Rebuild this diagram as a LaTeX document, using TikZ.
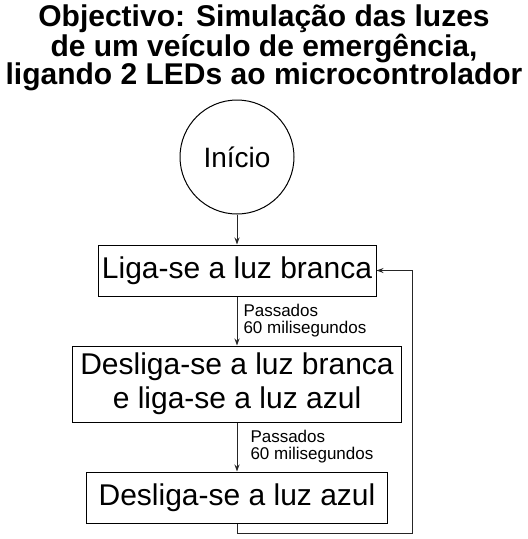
\documentclass[tikz,border=0pt]{standalone}
\usepackage{fontspec}
\setmainfont{Liberation Sans}
\usetikzlibrary{arrows.meta,positioning}
\usepackage{xcolor}
\definecolor{ink}{HTML}{000000}
\tikzset{
  >={Stealth[length=7pt,width=5pt]},
  every node/.style={text=ink},
  box/.style={draw=ink,line width=1pt,align=center,inner sep=0pt,minimum height=51pt,font=\fontsize{30}{34}\selectfont},
  startnode/.style={circle,draw=ink,line width=1pt,minimum size=114pt,inner sep=0pt,font=\fontsize{28}{32}\selectfont},
  arrow/.style={->,line width=1pt,draw=ink!85},
  caption/.style={font=\fontsize{17}{17}\selectfont,align=left,inner sep=0pt},
  heading/.style={font=\bfseries\fontsize{30}{28.5}\selectfont,align=center},
}

\begin{document}
\begin{tikzpicture}

\useasboundingbox (0,0) rectangle (528pt,-539pt);

\node[heading] (title) at (264pt,-48pt) {Objectivo: Simulação das luzes\\de um veículo de emergência,\\ligando 2 LEDs ao microcontrolador};

\node[startnode] (inicio) at (237pt,-157pt) {Início};
\node[box,minimum width=278pt,below=30pt of inicio] (branca) {Liga-se a luz branca};
\node[box,minimum width=329pt,minimum height=76pt,below=49pt of branca] (troca) {Desliga-se a luz branca\\e liga-se a luz azul};
\node[box,minimum width=301pt,below=49pt of troca] (azul) {Desliga-se a luz azul};

\draw[arrow] (inicio) -- (branca);
\draw[arrow] (branca) -- node[caption,right=6pt] {Passados\\60 milisegundos} (troca);
\draw[arrow] (troca) -- node[caption,right=13pt] {Passados\\60 milisegundos} (azul);
\draw[arrow] (azul.south) -- ++(0,-10pt) -| ([xshift=36pt]branca.east) -- (branca.east);

\end{tikzpicture}
\end{document}
